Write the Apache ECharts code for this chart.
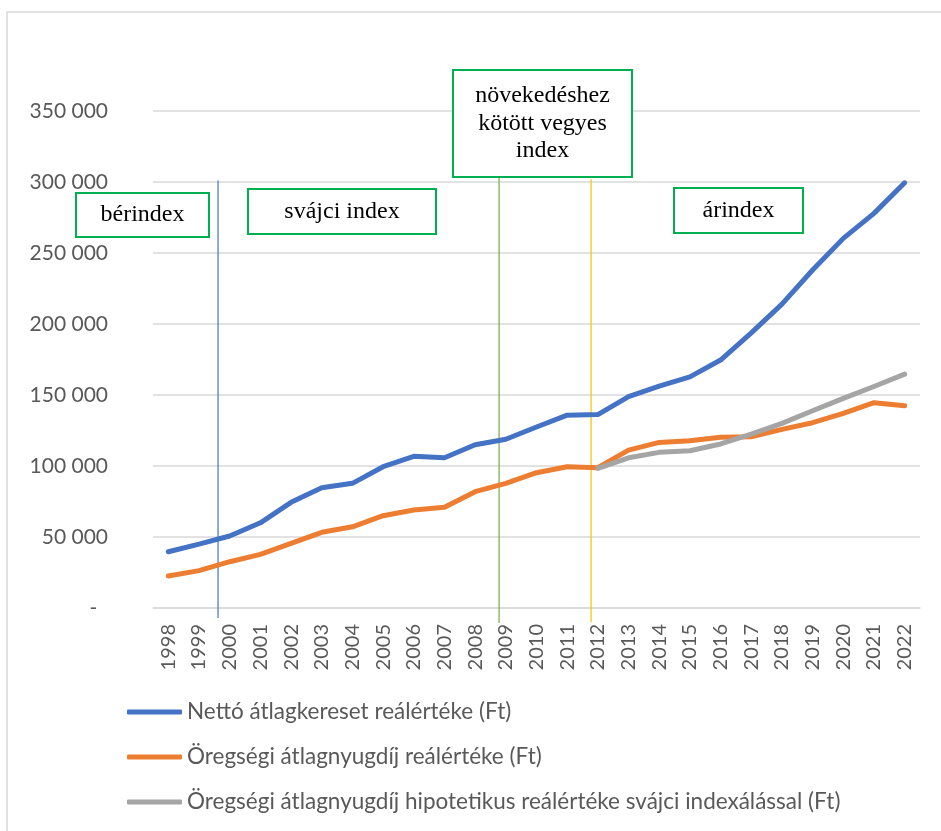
<!DOCTYPE html>
<html>
<head>
<meta charset="utf-8">
<script src="https://cdn.jsdelivr.net/npm/echarts@6/dist/echarts.min.js"></script>
<style>
html,body{margin:0;padding:0;background:#fff;}
#chart{width:941px;height:831px;}
</style>
</head>
<body>
<div id="chart"></div>
<script>
// ---- data ----
const years = ['1998','1999','2000','2001','2002','2003','2004','2005','2006','2007','2008','2009','2010','2011','2012','2013','2014','2015','2016','2017','2018','2019','2020','2021','2022'];
const netWage = [39600,45000,50700,60000,74400,84700,87800,99500,106800,105800,115000,118800,127500,135800,136200,148800,156300,162800,174600,193800,214000,238000,260300,277900,299400];
const pension = [22500,26300,32600,37800,45500,53300,57200,65000,69000,70900,81900,87800,95300,99500,98800,111200,116600,117800,120200,120600,125800,130500,137000,144600,142400];
const swissPension = [null,null,null,null,null,null,null,null,null,null,null,null,null,null,98300,105800,109600,110700,115500,122500,130000,138900,147600,156000,164700];
const seriesNames = ['Nettó átlagkereset reálértéke (Ft)','Öregségi átlagnyugdíj reálértéke (Ft)','Öregségi átlagnyugdíj hipotetikus reálértéke svájci indexálással (Ft)'];
const yTicks = [0,50000,100000,150000,200000,250000,300000,350000];
// regime boundary lines (year position, top value, bottom value)
const regimeYears = [1999.62, 2008.78, 2011.78];
const regimeTop = [301000, 303000, 302000];
const regimeBottom = [-7000, -10500, -10000];
const regimeLabels = ['bérindex','svájci index','növekedéshez\nkötött vegyes\nindex','árindex'];

const colors = ['#4472C4','#ED7D31','#A5A5A5'];
const regimeColors = ['#4472C4','#70AD47','#FFC000'];
const FONT = 'Lato';

const chart = echarts.init(document.getElementById('chart'));

function fmt(v){
  if (v === 0) return '-  ';
  return String(v).replace(/\B(?=(\d{3})+(?!\d))/g,' ');
}

const regimeSeries = regimeYears.map((x,i)=>({
  type:'line',
  xAxisIndex:1,
  yAxisIndex:0,
  data:[[x,regimeBottom[i]],[x,regimeTop[i]]],
  symbol:'none',
  clip:false,
  silent:true,
  lineStyle:{color:regimeColors[i],width:1.2},
  z:1
}));

function box(x,y,w,h,text){
  return {
    type:'group',
    children:[
      {type:'rect',shape:{x:x,y:y,width:w,height:h},style:{fill:'#fff',stroke:'#00B050',lineWidth:2},z:10},
      {type:'text',x:x+w/2,y:y+h/2,style:{text:text,fill:'#000',font:'24px "Liberation Serif"',align:'center',verticalAlign:'middle',lineHeight:27.5},z:11}
    ]
  };
}

chart.setOption({
  animation:false,
  backgroundColor:'#fff',
  grid:{left:153,right:21,top:111,bottom:223,containLabel:false},
  legend:{
    data:seriesNames,
    orient:'vertical',
    left:127,
    top:700,
    padding:0,
    itemWidth:55,
    itemHeight:5,
    itemGap:21,
    icon:'roundRect',
    textStyle:{color:'#595959',fontFamily:FONT,fontSize:22.5,lineHeight:24},
    selectedMode:false
  },
  xAxis:[{
    type:'category',
    data:years,
    boundaryGap:true,
    axisLine:{lineStyle:{color:'#d9d9d9',width:1.5}},
    axisTick:{show:false},
    axisLabel:{interval:0,rotate:90,color:'#595959',fontFamily:FONT,fontSize:20,margin:16}
  },{
    type:'value',
    min:1997.5,max:2022.5,
    show:false
  }],
  yAxis:{
    type:'value',
    min:0,max:350000,interval:50000,
    axisLine:{show:false},
    axisTick:{show:false},
    splitLine:{lineStyle:{color:'#d9d9d9',width:1.5}},
    axisLabel:{color:'#595959',fontFamily:FONT,fontSize:21,margin:45,formatter:fmt}
  },
  series:[
    ...regimeSeries,
    {name:seriesNames[0],type:'line',data:netWage,symbol:'none',lineStyle:{color:colors[0],width:5,cap:'round',join:'round'},itemStyle:{color:colors[0]},z:3},
    {name:seriesNames[1],type:'line',data:pension,symbol:'none',lineStyle:{color:colors[1],width:5,cap:'round',join:'round'},itemStyle:{color:colors[1]},z:3},
    {name:seriesNames[2],type:'line',data:swissPension,symbol:'none',lineStyle:{color:colors[2],width:5,cap:'round',join:'round'},itemStyle:{color:colors[2]},z:4}
  ],
  graphic:[
    {type:'rect',shape:{x:7,y:12,width:945,height:830},style:{fill:'none',stroke:'#d9d9d9',lineWidth:1.5},z:0,silent:true},
    box(76,193,133,44,regimeLabels[0]),
    box(248,189,188,45,regimeLabels[1]),
    box(453,70,179,107,regimeLabels[2]),
    box(674,188,129,45,regimeLabels[3])
  ]
});
</script>
</body>
</html>
